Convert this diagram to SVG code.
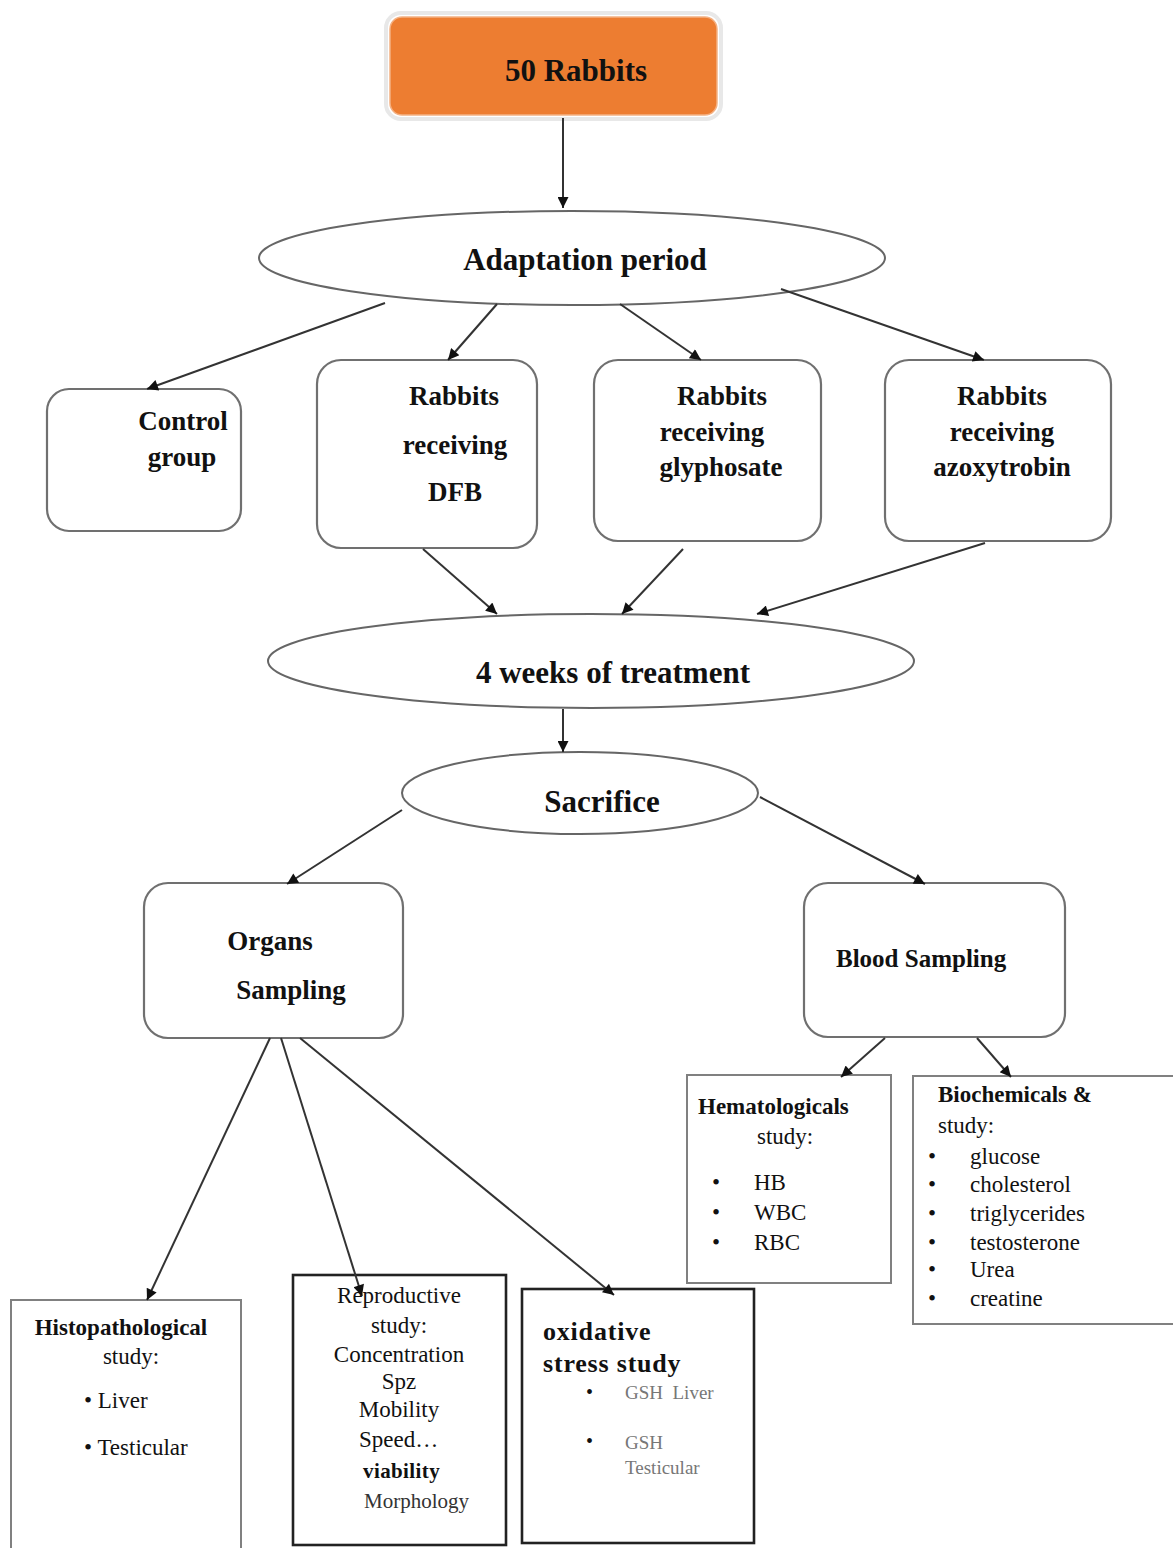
<svg xmlns="http://www.w3.org/2000/svg" width="1173" height="1548" viewBox="0 0 1173 1548">
<defs>
<marker id="ah" viewBox="0 0 10 10" refX="10" refY="5" markerWidth="13" markerHeight="11" markerUnits="userSpaceOnUse" orient="auto">
<path d="M0,0 L10,5 L0,10 Z" fill="#111"/>
</marker>
</defs>
<style>
text{font-family:"Liberation Serif","Times New Roman",serif;fill:#111}
.h{font-size:31px;font-weight:bold;text-anchor:middle}
.b{font-size:27px;font-weight:bold;text-anchor:middle}
.bl{font-size:27px;font-weight:bold}
.t{font-size:23px}
.tb{font-size:23px;font-weight:bold}
.c{text-anchor:middle}
.rr{fill:#fff;stroke:#707070;stroke-width:2.2}
.el{fill:#fff;stroke:#666;stroke-width:2}
.sq{fill:#fff;stroke:#808080;stroke-width:2}
.sk{fill:#fff;stroke:#222;stroke-width:2.6}
.cn line{stroke:#333;stroke-width:2;marker-end:url(#ah)}
.g{font-size:19px;fill:#777}
</style>
<rect width="1173" height="1548" fill="#fff"/>

<g id="n-rabbits">
<rect x="386" y="13" width="335" height="106" rx="15" fill="none" stroke="#e8e8e8" stroke-width="4"/>
<rect x="390" y="17" width="327" height="98" rx="12" fill="#ED7D31" stroke="#f4b183" stroke-width="1.5"/>
<text class="h" x="576" y="81">50 Rabbits</text>
</g>

<g id="n-adaptation">
<ellipse class="el" cx="572" cy="258" rx="313" ry="47"/>
<text class="h" x="585" y="270">Adaptation period</text>
</g>

<g id="n-control">
<rect class="rr" x="47" y="389" width="194" height="142" rx="22"/>
<text class="b" x="183" y="430">Control</text>
<text class="b" x="182" y="466">group</text>
</g>

<g id="n-dfb">
<rect class="rr" x="317" y="360" width="220" height="188" rx="24"/>
<text class="b" x="454" y="405">Rabbits</text>
<text class="b" x="455" y="454">receiving</text>
<text class="b" x="455" y="501">DFB</text>
</g>

<g id="n-glyphosate">
<rect class="rr" x="594" y="360" width="227" height="181" rx="24"/>
<text class="b" x="722" y="405">Rabbits</text>
<text class="b" x="712" y="441">receiving</text>
<text class="b" x="721" y="476">glyphosate</text>
</g>

<g id="n-azoxytrobin">
<rect class="rr" x="885" y="360" width="226" height="181" rx="24"/>
<text class="b" x="1002" y="405">Rabbits</text>
<text class="b" x="1002" y="441">receiving</text>
<text class="b" x="1002" y="476">azoxytrobin</text>
</g>

<g id="n-treatment">
<ellipse class="el" cx="591" cy="661" rx="323" ry="47"/>
<text class="h" x="613" y="683">4 weeks of treatment</text>
</g>

<g id="n-sacrifice">
<ellipse class="el" cx="580" cy="793" rx="178" ry="41"/>
<text class="h" x="602" y="812">Sacrifice</text>
</g>

<g id="n-organs">
<rect class="rr" x="144" y="883" width="259" height="155" rx="24"/>
<text class="b" x="270" y="950">Organs</text>
<text class="b" x="291" y="999">Sampling</text>
</g>

<g id="n-blood">
<rect class="rr" x="804" y="883" width="261" height="154" rx="24"/>
<text x="836" y="967" style="font-size:25px;font-weight:bold">Blood Sampling</text>
</g>

<g id="n-histo">
<rect class="sq" x="11" y="1300" width="230" height="270"/>
<text class="tb c" x="121" y="1335">Histopathological</text>
<text class="t c" x="131" y="1364">study:</text>
<text class="t" x="84" y="1408">• Liver</text>
<text class="t" x="84" y="1455">• Testicular</text>
</g>

<g id="n-repro">
<rect class="sk" x="293" y="1275" width="213" height="270"/>
<text class="t c" x="399" y="1303">Reproductive</text>
<text class="t c" x="399" y="1333">study:</text>
<text class="t c" x="399" y="1362">Concentration</text>
<text class="t c" x="399" y="1389">Spz</text>
<text class="t c" x="399" y="1417">Mobility</text>
<text class="t" x="359" y="1447">Speed…</text>
<text x="363" y="1478" style="font-size:21px;font-weight:bold;letter-spacing:0.4px">viability</text>
<text x="364" y="1508" style="font-size:21px;fill:#333">Morphology</text>
</g>

<g id="n-oxidative">
<rect class="sk" x="522" y="1289" width="232" height="254"/>
<text class="bl" x="543" y="1340" style="font-size:26px;letter-spacing:0.8px">oxidative</text>
<text class="bl" x="543" y="1372" style="font-size:26px;letter-spacing:0.8px">stress study</text>
<text x="586" y="1399" style="font-size:20px">•</text>
<text class="g" x="625" y="1399" xml:space="preserve">GSH  Liver</text>
<text x="586" y="1448" style="font-size:20px">•</text>
<text class="g" x="625" y="1449">GSH</text>
<text class="g" x="625" y="1474">Testicular</text>
</g>

<g id="n-hema">
<rect class="sq" x="687" y="1075" width="204" height="208"/>
<text class="tb" x="698" y="1114">Hematologicals</text>
<text class="t" x="757" y="1144">study:</text>
<text class="t" x="712" y="1190">•</text>
<text class="t" x="754" y="1190">HB</text>
<text class="t" x="712" y="1220">•</text>
<text class="t" x="754" y="1220">WBC</text>
<text class="t" x="712" y="1250">•</text>
<text class="t" x="754" y="1250">RBC</text>
</g>

<g id="n-bio">
<rect class="sq" x="913" y="1076" width="275" height="248"/>
<text class="tb" x="938" y="1102">Biochemicals &amp;</text>
<text class="t" x="938" y="1133">study:</text>
<text class="t" x="928" y="1164">•</text>
<text class="t" x="970" y="1164">glucose</text>
<text class="t" x="928" y="1192">•</text>
<text class="t" x="970" y="1192">cholesterol</text>
<text class="t" x="928" y="1221">•</text>
<text class="t" x="970" y="1221">triglycerides</text>
<text class="t" x="928" y="1250">•</text>
<text class="t" x="970" y="1250">testosterone</text>
<text class="t" x="928" y="1277">•</text>
<text class="t" x="970" y="1277">Urea</text>
<text class="t" x="928" y="1306">•</text>
<text class="t" x="970" y="1306">creatine</text>
</g>

<g id="connectors" class="cn">
<line x1="563" y1="118" x2="563" y2="208"/>
<line x1="385" y1="303" x2="147" y2="389"/>
<line x1="497" y1="304" x2="448" y2="360"/>
<line x1="620" y1="304" x2="701" y2="360"/>
<line x1="781" y1="289" x2="984" y2="360"/>
<line x1="423" y1="549" x2="497" y2="614"/>
<line x1="683" y1="549" x2="622" y2="614"/>
<line x1="985" y1="543" x2="757" y2="614"/>
<line x1="563" y1="709" x2="563" y2="752"/>
<line x1="402" y1="810" x2="287" y2="884"/>
<line x1="760" y1="797" x2="925" y2="884"/>
<line x1="270" y1="1038" x2="147" y2="1300"/>
<line x1="281" y1="1038" x2="362" y2="1296"/>
<line x1="300" y1="1038" x2="614" y2="1295"/>
<line x1="885" y1="1038" x2="841" y2="1077"/>
<line x1="977" y1="1038" x2="1011" y2="1077"/>
</g>
</svg>
